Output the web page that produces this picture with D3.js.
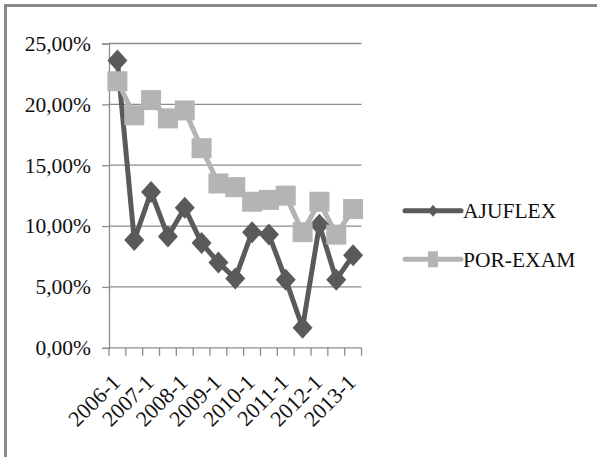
<!DOCTYPE html>
<html>
<head>
<meta charset="utf-8">
<script src="https://cdn.jsdelivr.net/npm/d3@7"></script>
<style>
html,body{margin:0;padding:0;background:#fff;}
svg{display:block;}
</style>
</head>
<body>
<svg id="chart" width="597" height="457"></svg>
<script>
const categories = ["2006-1","2006-2","2007-1","2007-2","2008-1","2008-2","2009-1","2009-2","2010-1","2010-2","2011-1","2011-2","2012-1","2012-2","2013-1"];
const ajuflex = [23.6, 8.85, 12.8, 9.15, 11.5, 8.6, 7.0, 5.7, 9.5, 9.3, 5.6, 1.65, 10.1, 5.6, 7.6];
const porExam = [21.9, 19.1, 20.35, 18.85, 19.5, 16.4, 13.5, 13.2, 12.0, 12.15, 12.5, 9.5, 12.0, 9.3, 11.4];
const tickLabels = ["2006-1","2007-1","2008-1","2009-1","2010-1","2011-1","2012-1","2013-1"];
const yTicks = [0, 5, 10, 15, 20, 25];
const seriesNames = ["AJUFLEX", "POR-EXAM"];

(function(){
const FONT = '"Liberation Serif"';
const svg = d3.select("#chart");
const colors = {"AJUFLEX":"#5a5a5a","POR-EXAM":"#b4b4b4"};
const pLeft = 109, pRight = 361.5, pTop = 43.5, pBottom = 347.8;

// outer frame
svg.append("rect").attr("x",5.5).attr("y",5.5).attr("width",620).attr("height",480)
  .attr("fill","none").attr("stroke","#888").attr("stroke-width",3);

const x = d3.scaleBand().domain(categories).range([pLeft,pRight]).paddingInner(0).paddingOuter(0);
const y = d3.scaleLinear().domain([0,25]).range([pBottom,pTop]);
const fmt = v => v.toFixed(2).replace(".", ",") + "%";

// gridlines
svg.append("g").selectAll("line").data(yTicks.filter(d=>d>0)).join("line")
  .attr("x1",pLeft).attr("x2",pRight).attr("y1",d=>y(d)).attr("y2",d=>y(d))
  .attr("stroke","#8c8c8c").attr("stroke-width",1.3);

// y axis
const yAxis = svg.append("g").attr("transform",`translate(${pLeft},0)`)
  .call(d3.axisLeft(y).tickValues(yTicks).tickFormat(fmt).tickSize(7).tickPadding(11));
yAxis.attr("font-family",FONT).attr("font-size",21.5);
yAxis.select(".domain").attr("stroke","#8c8c8c").attr("stroke-width",1.3);
yAxis.selectAll(".tick line").attr("stroke","#8c8c8c").attr("stroke-width",1.3);
yAxis.selectAll(".tick text").attr("font-size",21.5).attr("font-family",FONT).attr("fill","#111");

// x axis line and ticks at band boundaries
const boundaries = categories.map(c=>x(c)).concat([pRight]);
svg.append("line").attr("x1",pLeft).attr("x2",pRight).attr("y1",pBottom).attr("y2",pBottom)
  .attr("stroke","#8c8c8c").attr("stroke-width",1.3);
svg.append("g").selectAll("line").data(boundaries).join("line")
  .attr("x1",d=>d).attr("x2",d=>d).attr("y1",pBottom).attr("y2",pBottom+8)
  .attr("stroke","#8c8c8c").attr("stroke-width",1.3);

// x labels
svg.append("g").selectAll("text").data(tickLabels).join("text")
  .attr("transform",d=>`translate(${x(d)+x.bandwidth()/2+4},${pBottom+36}) rotate(-45)`)
  .attr("text-anchor","end").attr("font-size",22).attr("font-family",FONT).attr("fill","#111").text(d=>d);

const cx = (d,i)=>x(categories[i])+x.bandwidth()/2;
const line = d3.line().x((d,i)=>cx(d,i)).y(d=>y(d));

// lines first
[[ajuflex,"AJUFLEX"],[porExam,"POR-EXAM"]].forEach(([vals,name])=>{
  svg.append("path").datum(vals).attr("d",line).attr("fill","none")
    .attr("stroke",colors[name]).attr("stroke-width",5).attr("stroke-linejoin","round");
});

// markers
svg.append("g").selectAll("path").data(ajuflex).join("path")
  .attr("transform",(d,i)=>`translate(${cx(d,i)},${y(d)})`)
  .attr("d","M0,-11L10,0L0,11L-10,0Z").attr("fill",colors["AJUFLEX"]);
svg.append("g").selectAll("rect").data(porExam).join("rect")
  .attr("x",(d,i)=>cx(d,i)-10).attr("y",d=>y(d)-10).attr("width",20).attr("height",20)
  .attr("fill",colors["POR-EXAM"]);

// legend
const ly = [210.7, 259.3];
seriesNames.forEach((name,i)=>{
  const g = svg.append("g");
  g.append("line").attr("x1",405).attr("x2",461).attr("y1",ly[i]).attr("y2",ly[i])
    .attr("stroke",colors[name]).attr("stroke-width",5).attr("stroke-linecap","round");
  if(i===0){
    g.append("path").attr("transform",`translate(433,${ly[i]})`).attr("d","M0,-6L5,0L0,6L-5,0Z").attr("fill",colors[name]);
  } else {
    g.append("rect").attr("x",428).attr("y",ly[i]-8).attr("width",10).attr("height",16).attr("fill",colors[name]);
  }
  g.append("text").attr("x",463).attr("y",ly[i]+7.5).attr("font-size",21.5)
    .attr("font-family",FONT).attr("fill","#111").text(name);
});
})();
</script>
</body>
</html>
